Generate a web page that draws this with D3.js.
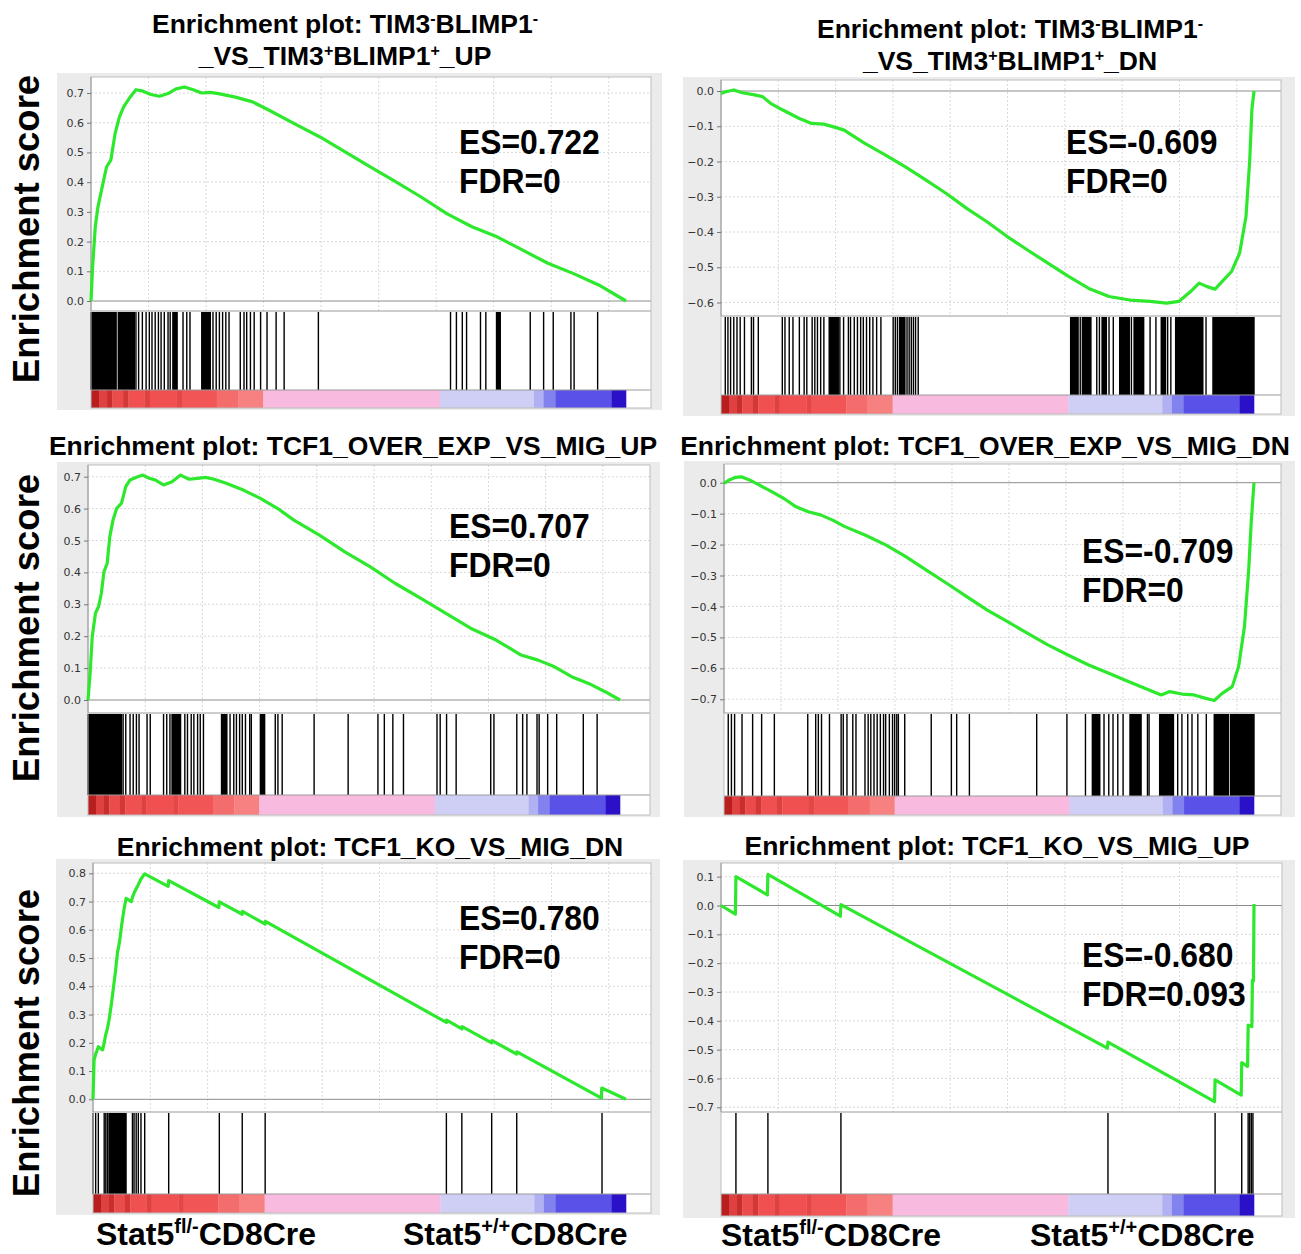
<!DOCTYPE html>
<html><head><meta charset="utf-8">
<script src="https://cdn.jsdelivr.net/npm/d3@7"></script>
<style>body{margin:0;background:#fff}</style>
</head><body>
<svg id="chart" width="1301" height="1254"></svg>
<script>
// ---------------- DATA ----------------
const LIST_SIZE = 18600;      // genes in ranked list
const GRID_STEP = 2000;       // rank grid spacing

// x values: position in ranked list (% of list); y: running enrichment score
const curve1 = [[0,0],[0.3,0.115],[0.8,0.25],[1.3,0.317],[2.1,0.384],[2.9,0.451],[3.7,0.474],[4.5,0.563],[5.3,0.619],[6.1,0.653],[7.3,0.686],[8.4,0.711],[9.6,0.707],[11.2,0.695],[12.8,0.689],[14.4,0.698],[15.9,0.714],[17.5,0.720],[19.1,0.711],[20.7,0.700],[22.3,0.702],[23.8,0.698],[25.4,0.692],[27.0,0.686],[30.2,0.670],[33.3,0.642],[38.0,0.597],[42.8,0.552],[47.5,0.502],[52.2,0.451],[57.0,0.401],[61.7,0.350],[66.5,0.294],[71.2,0.250],[75.9,0.216],[80.7,0.171],[85.4,0.127],[90.1,0.093],[94.9,0.054],[100,0]];
const curve2 = [[0,-0.007],[0.9,-0.002],[2.4,0.003],[4.0,-0.005],[6.3,-0.011],[7.8,-0.016],[9.3,-0.035],[11.6,-0.054],[14.7,-0.078],[17.0,-0.092],[19.3,-0.094],[21.6,-0.104],[23.1,-0.111],[26.9,-0.148],[30.8,-0.181],[34.6,-0.215],[38.4,-0.252],[42.2,-0.290],[46.1,-0.333],[49.9,-0.371],[53.7,-0.413],[57.5,-0.451],[61.4,-0.489],[65.2,-0.526],[69.0,-0.560],[72.8,-0.583],[76.7,-0.593],[80.5,-0.597],[83.6,-0.602],[85.9,-0.597],[88.1,-0.569],[89.7,-0.545],[91.2,-0.555],[92.7,-0.562],[94.3,-0.536],[95.8,-0.512],[97.3,-0.460],[98.5,-0.356],[99.2,-0.196],[99.6,-0.054],[100,0]];
const curve3 = [[0,0],[0.4,0.084],[0.8,0.199],[1.4,0.272],[2.0,0.293],[2.5,0.334],[3.0,0.402],[3.6,0.428],[4.1,0.512],[4.7,0.564],[5.4,0.601],[6.3,0.617],[7.1,0.669],[7.9,0.690],[9.1,0.698],[10.3,0.705],[11.5,0.695],[12.6,0.690],[14.2,0.674],[15.8,0.684],[17.4,0.705],[19.0,0.692],[20.6,0.695],[22.1,0.698],[23.7,0.692],[26.1,0.679],[29.2,0.658],[32.4,0.632],[35.6,0.601],[38.7,0.564],[43.5,0.517],[48.2,0.465],[53.0,0.418],[57.7,0.366],[62.5,0.319],[67.2,0.272],[71.9,0.225],[76.7,0.188],[81.4,0.141],[84.6,0.125],[87.7,0.104],[90.9,0.073],[94.1,0.052],[97.2,0.026],[100,0]];
const curve4 = [[0,-0.002],[1.0,0.009],[2.1,0.017],[3.3,0.019],[4.8,0.009],[6.7,-0.008],[9.0,-0.029],[11.3,-0.051],[13.6,-0.078],[15.9,-0.094],[18.2,-0.104],[20.5,-0.121],[22.8,-0.142],[26.6,-0.169],[30.5,-0.201],[34.3,-0.239],[38.1,-0.282],[42.0,-0.325],[45.8,-0.368],[49.6,-0.411],[53.5,-0.449],[57.3,-0.487],[61.1,-0.524],[64.9,-0.557],[68.8,-0.589],[72.6,-0.616],[76.4,-0.643],[80.2,-0.670],[82.5,-0.686],[84.1,-0.675],[86.4,-0.683],[88.7,-0.686],[90.9,-0.697],[92.5,-0.704],[94.0,-0.681],[95.9,-0.659],[97.1,-0.594],[98.2,-0.465],[99.0,-0.282],[99.5,-0.121],[100,0]];
const curve5 = [[0,0],[0.2,0.139],[0.5,0.16],[1.0,0.186],[1.8,0.175],[2.1,0.2],[2.4,0.23],[2.7,0.25],[3.0,0.28],[3.4,0.33],[3.8,0.39],[4.2,0.45],[4.6,0.52],[5.0,0.56],[5.4,0.62],[5.8,0.67],[6.2,0.711],[7.2,0.70],[7.4,0.715],[7.7,0.73],[8.1,0.745],[8.5,0.76],[9.0,0.78],[9.7,0.798],[14.1,0.754],[14.2,0.774],[23.6,0.679],[23.7,0.699],[28.0,0.655],[28.05,0.665],[32.3,0.62],[32.35,0.63],[66.3,0.272],[66.35,0.28],[69.2,0.249],[69.25,0.257],[74.8,0.2],[74.85,0.208],[79.5,0.16],[79.55,0.168],[95.4,0.004],[95.45,0.04],[100,0]];
const curve6 = [[0,0],[2.7,-0.03],[2.8,0.1],[8.7,0.037],[8.8,0.108],[22.4,-0.037],[22.5,0.003],[72.5,-0.495],[72.6,-0.474],[92.6,-0.68],[92.7,-0.605],[97.6,-0.658],[97.7,-0.545],[98.8,-0.558],[98.9,-0.415],[99.6,-0.42],[99.7,-0.26],[99.9,-0.262],[100,0.005]];

// gene-set hits: [start%, end%] (single genes have start == end)
const hits1 = [[0,4.7],[5.1,8.1],[8.4,8.4],[8.9,8.9],[9.6,9.6],[10.3,10.3],[10.9,10.9],[11.4,11.4],[12.0,12.0],[12.6,12.6],[13.1,13.1],[13.7,13.7],[14.4,14.4],[14.8,14.8],[15.3,16.1],[17.2,17.2],[17.9,17.9],[18.5,18.5],[20.7,22.3],[22.8,22.8],[23.4,23.4],[24.0,24.0],[24.6,24.6],[25.2,25.2],[25.8,25.8],[27.9,27.9],[28.6,28.6],[29.1,29.1],[29.8,29.8],[30.5,30.5],[31.7,31.7],[32.9,32.9],[34.6,34.6],[36.1,36.1],[42.5,42.5],[67.2,67.2],[68.3,68.3],[69.4,69.4],[70.2,70.2],[72.8,72.8],[73.8,73.8],[75.8,76.5],[82.1,82.1],[84.6,84.6],[86.4,86.4],[89.7,89.7],[90.3,90.3],[94.7,94.7]];
const hits2 = [[0.8,0.8],[1.3,1.3],[1.8,1.8],[2.4,2.4],[3.0,3.0],[3.6,3.6],[4.4,4.4],[5.7,5.7],[6.1,6.1],[7.0,7.0],[11.5,11.5],[12.0,12.0],[12.8,12.8],[13.5,13.5],[14.7,14.7],[15.6,15.6],[16.1,16.1],[17.1,17.1],[17.6,17.6],[18.1,18.1],[18.7,18.7],[19.3,19.3],[20.3,22.0],[22.3,22.3],[23.0,23.0],[23.9,23.9],[24.3,24.3],[25.0,25.0],[25.6,25.6],[26.2,26.2],[26.7,26.7],[27.3,27.3],[27.9,27.9],[28.5,28.5],[29.2,29.2],[30.0,30.0],[32.3,32.3],[32.7,32.7],[33.1,33.1],[33.5,34.5],[34.9,34.9],[35.3,35.3],[35.7,35.7],[36.1,36.1],[36.5,36.5],[37.0,37.0],[65.6,67.0],[67.4,67.4],[67.8,69.4],[70.5,70.5],[71.0,71.0],[71.5,72.3],[72.8,72.8],[73.6,73.6],[74.8,76.6],[77.0,77.0],[77.5,79.3],[80.5,80.5],[81.6,81.6],[82.6,83.4],[83.8,83.8],[84.4,84.4],[85.3,90.4],[91.0,91.0],[92.3,100]];
const hits3 = [[0,1.6],[1.8,6.3],[6.6,6.6],[7.1,7.1],[7.9,7.9],[8.5,8.5],[9.1,9.1],[9.6,9.6],[11.1,11.1],[11.7,11.7],[14.2,14.2],[14.8,14.8],[15.4,15.4],[15.8,17.4],[18.2,18.2],[18.7,18.7],[19.4,19.4],[19.9,19.9],[20.6,20.6],[21.1,21.1],[21.7,21.7],[25.1,26.1],[26.7,26.7],[27.4,27.4],[27.9,27.9],[28.5,28.5],[29.0,29.0],[29.6,29.6],[30.4,30.4],[30.7,30.7],[32.4,33.2],[35.2,35.2],[35.7,35.7],[36.5,36.5],[42.5,42.5],[48.9,48.9],[54.5,54.5],[55.7,55.7],[57.3,57.3],[59.3,59.3],[65.6,65.6],[66.2,66.2],[67.4,67.4],[69.2,69.2],[75.7,75.7],[76.3,76.3],[80.6,80.6],[81.7,81.7],[82.5,82.5],[84.4,84.4],[84.8,84.8],[86.4,86.4],[88.1,88.1],[93.1,93.1],[95.7,95.7]];
const hits4 = [[0.8,0.8],[1.4,1.4],[2.0,2.0],[3.4,3.4],[5.4,5.4],[7.1,7.1],[9.5,9.5],[15.8,15.8],[17.3,17.3],[17.8,17.8],[18.4,18.4],[19.9,19.9],[22.1,22.1],[22.5,22.5],[23.2,23.2],[24.3,24.3],[24.9,24.9],[26.6,26.6],[27.2,27.2],[27.7,27.7],[28.3,28.3],[28.9,28.9],[29.5,29.5],[30.1,30.1],[30.5,30.5],[31.2,31.2],[31.8,31.8],[32.2,32.2],[32.6,32.6],[32.9,32.9],[34.1,34.1],[39.1,39.1],[42.9,42.9],[43.9,43.9],[46.3,46.3],[59.0,59.0],[64.7,64.7],[68.2,68.2],[69.5,70.9],[71.7,71.7],[72.6,72.6],[73.4,73.4],[74.3,74.3],[75.3,75.3],[76.6,78.7],[79.9,79.9],[80.2,80.2],[82.2,84.8],[85.6,85.6],[86.4,86.4],[87.5,87.5],[88.3,88.3],[89.4,89.4],[91.0,91.0],[92.5,95.2],[95.6,100]];
const hits5 = [[0,0],[0.5,0.5],[1.0,1.0],[2.1,2.1],[2.4,2.4],[2.7,2.7],[3.0,6.2],[7.4,7.4],[7.7,7.7],[8.1,8.1],[8.5,8.5],[9.0,9.0],[9.7,9.7],[14.2,14.2],[23.7,23.7],[28.0,28.0],[32.3,32.3],[66.3,66.3],[69.2,69.2],[74.8,74.8],[79.5,79.5],[95.5,95.5]];
const hits6 = [[2.8,2.8],[8.8,8.8],[22.5,22.5],[72.6,72.6],[92.7,92.7],[97.7,97.7],[98.9,98.9],[99.2,99.2],[99.5,99.5],[99.8,99.8]];

// ranked-list metric bands shared by all panels: [start%, end%, metric level]
const rankBands = [[0,1.5,3],[1.5,3,2.3],[3,4,2.7],[4,6,2.1],[6,7,2.5],[7,10,2],[10,11,2.3],[11,16,2],[16,17,2.2],[17,23.5,1.9],[23.5,27.5,1.4],[27.5,32.2,1],[32.2,65.2,0.5],[65.2,82.8,-0.5],[82.8,84.6,-0.7],[84.6,86.8,-1],[86.8,97.3,-2],[97.3,100,-3]];

const esValues = [0.722, -0.609, 0.707, -0.709, 0.780, -0.680];
const fdrValues = ["0", "0", "0", "0", "0", "0.093"];

const ticks1 = [0,0.1,0.2,0.3,0.4,0.5,0.6,0.7];
const ticks2 = [0,-0.1,-0.2,-0.3,-0.4,-0.5,-0.6];
const ticks3 = [0,0.1,0.2,0.3,0.4,0.5,0.6,0.7];
const ticks4 = [0,-0.1,-0.2,-0.3,-0.4,-0.5,-0.6,-0.7];
const ticks5 = [0,0.1,0.2,0.3,0.4,0.5,0.6,0.7,0.8];
const ticks6 = [0.1,0,-0.1,-0.2,-0.3,-0.4,-0.5,-0.6,-0.7];

// titles as [text, isSuperscript] runs, one array per line
const title1 = [[["Enrichment plot: TIM3",0],["-",1],["BLIMP1",0],["-",1]],[["_VS_TIM3",0],["+",1],["BLIMP1",0],["+",1],["_UP",0]]];
const title2 = [[["Enrichment plot: TIM3",0],["-",1],["BLIMP1",0],["-",1]],[["_VS_TIM3",0],["+",1],["BLIMP1",0],["+",1],["_DN",0]]];
const title3 = [[["Enrichment plot: TCF1_OVER_EXP_VS_MIG_UP",0]]];
const title4 = [[["Enrichment plot: TCF1_OVER_EXP_VS_MIG_DN",0]]];
const title5 = [[["Enrichment plot: TCF1_KO_VS_MIG_DN",0]]];
const title6 = [[["Enrichment plot: TCF1_KO_VS_MIG_UP",0]]];

const yAxisLabel = "Enrichment score";
const groupLabels = [[["Stat5",0],["fl/-",1],["CD8Cre",0]], [["Stat5",0],["+/+",1],["CD8Cre",0]]];

// ---------------- LAYOUT ----------------
const layouts = [
 {bg:[57,73,662,410], left:91, right:651, listEnd:626, top:77, sep:311, hitsBottom:390, barBottom:408, y0:301, yRef:[0.7,93], es:[459,154], title:[345,33]},
 {bg:[683,77,1295,416], left:721, right:1281, listEnd:1254, top:80, sep:316, hitsBottom:395, barBottom:414, y0:91, yRef:[-0.6,302.5], es:[1066,154], title:[1010,38]},
 {bg:[57,462,660,817], left:88, right:650, listEnd:620, top:465, sep:713, hitsBottom:795, barBottom:815, y0:700, yRef:[0.7,476.7], es:[449,538], title:[353,455]},
 {bg:[684,461,1295,817], left:724, right:1281, listEnd:1254, top:464, sep:713, hitsBottom:796, barBottom:815, y0:482.7, yRef:[-0.7,699.3], es:[1082,563], title:[985,455]},
 {bg:[56,859,660,1215], left:93, right:651, listEnd:626, top:863, sep:1112, hitsBottom:1194, barBottom:1213, y0:1099.3, yRef:[0.8,873.3], es:[459,930], title:[370,856]},
 {bg:[683,860,1295,1218], left:721, right:1282, listEnd:1254, top:863, sep:1112, hitsBottom:1194, barBottom:1216, y0:905.5, yRef:[-0.7,1107.3], es:[1082,967], title:[997,855]}
];

const curves = [curve1,curve2,curve3,curve4,curve5,curve6];
const hitsAll = [hits1,hits2,hits3,hits4,hits5,hits6];
const ticksAll = [ticks1,ticks2,ticks3,ticks4,ticks5,ticks6];
const titlesAll = [title1,title2,title3,title4,title5,title6];

const BOLD = "'Liberation Sans', Arial, Helvetica, sans-serif";
const svg = d3.select("#chart");
svg.append("rect").attr("width",1301).attr("height",1254).attr("fill","#fff");

const bandColor = d3.scaleLinear()
  .domain([-3,-2,-1,-0.5,0.5,1,2,3])
  .range(["#2a10c6","#5a52e8","#8282ee","#cfcff6","#f9badf","#f78080","#f05050","#b81e1e"]);

function runs(textSel, parts, size, supSize, supShift) {
  let shifted = false;
  parts.forEach(([t, sup]) => {
    const ts = textSel.append("tspan").text(t);
    if (sup) { ts.attr("font-size", supSize).attr("dy", -supShift); shifted = true; }
    else { ts.attr("font-size", size); if (shifted) { ts.attr("dy", supShift); shifted = false; } }
  });
}
function condense(sel, f) {
  const n = sel.node().getComputedTextLength();
  sel.attr("textLength", n * f).attr("lengthAdjust", "spacingAndGlyphs");
}

layouts.forEach((L, i) => {
  const g = svg.append("g");
  g.append("rect").attr("x",L.bg[0]).attr("y",L.bg[1]).attr("width",L.bg[2]-L.bg[0]).attr("height",L.bg[3]-L.bg[1]).attr("fill","#ebebeb");
  g.append("rect").attr("x",L.left).attr("y",L.top).attr("width",L.right-L.left).attr("height",L.barBottom-L.top)
    .attr("fill","#fff");

  const x = d3.scaleLinear().domain([0,100]).range([L.left, L.listEnd]);
  const y = d3.scaleLinear().domain([0, L.yRef[0]]).range([L.y0, L.yRef[1]]);

  // grid
  const gridPct = d3.range(GRID_STEP, LIST_SIZE*1.1, GRID_STEP).map(r => r/LIST_SIZE*100).filter(p => x(p) < L.right-3);
  g.selectAll(null).data(gridPct).join("line")
    .attr("x1",d=>x(d)).attr("x2",d=>x(d)).attr("y1",L.top).attr("y2",L.sep)
    .attr("stroke","#d9d9d9").attr("stroke-dasharray","2,2");
  g.selectAll(null).data(ticksAll[i].filter(t=>t!==0)).join("line")
    .attr("x1",L.left).attr("x2",L.right).attr("y1",d=>y(d)).attr("y2",d=>y(d))
    .attr("stroke","#d9d9d9").attr("stroke-dasharray","2,2");
  // zero line
  g.append("line").attr("x1",L.left).attr("x2",L.right).attr("y1",y(0)).attr("y2",y(0)).attr("stroke","#8c8c8c");

  // hits
  g.selectAll(null).data(hitsAll[i]).join("rect")
    .attr("x",d=>x(d[0])-0.7).attr("width",d=>Math.max(1.4, x(d[1])-x(d[0])+1.4))
    .attr("y",L.sep+1).attr("height",L.hitsBottom-L.sep-1).attr("fill","#000");

  // ranked list colour bar
  g.selectAll(null).data(rankBands).join("rect")
    .attr("x",d=>x(d[0])).attr("width",d=>x(d[1])-x(d[0])+0.3)
    .attr("y",L.hitsBottom).attr("height",L.barBottom-L.hitsBottom)
    .attr("fill",d=>bandColor(d[2]));

  // separators and frame
  [L.sep, L.hitsBottom].forEach(yy => g.append("line").attr("x1",L.left).attr("x2",L.right).attr("y1",yy).attr("y2",yy).attr("stroke","#9a9a9a"));
  g.append("rect").attr("x",L.left).attr("y",L.top).attr("width",L.right-L.left).attr("height",L.barBottom-L.top)
    .attr("fill","none").attr("stroke","#bdbdbd");

  // y axis
  const ax = g.append("g").attr("transform",`translate(${L.left},0)`)
    .call(d3.axisLeft(y).tickValues(ticksAll[i]).tickFormat(d3.format(".1f")).tickSize(4).tickPadding(3));
  ax.select(".domain").attr("stroke","#9a9a9a").attr("d",`M0,${L.top}V${L.sep}`);
  ax.selectAll(".tick line").attr("stroke","#777");
  ax.selectAll(".tick text").attr("fill","#333").attr("font-family","'DejaVu Sans', sans-serif").attr("font-size",11);

  // curve
  g.append("path").datum(curves[i])
    .attr("d", d3.line().x(d=>x(d[0])).y(d=>y(d[1])))
    .attr("fill","none").attr("stroke","#2ee82e").attr("stroke-width",3.2).attr("stroke-linejoin","round");

  // ES / FDR
  const esT = g.append("text").attr("x",L.es[0]).attr("y",L.es[1]).attr("font-family",BOLD).attr("font-weight","bold").attr("font-size",35)
    .text("ES=" + esValues[i].toFixed(3));
  condense(esT, 0.91);
  const fdrT = g.append("text").attr("x",L.es[0]).attr("y",L.es[1]+39).attr("font-family",BOLD).attr("font-weight","bold").attr("font-size",35)
    .text("FDR=" + fdrValues[i]);
  condense(fdrT, 0.91);

  // title
  titlesAll[i].forEach((line, k) => {
    const t = g.append("text").attr("x",L.title[0]).attr("y",L.title[1]+k*32).attr("text-anchor","middle")
      .attr("font-family",BOLD).attr("font-weight","bold").attr("font-size",26.5);
    runs(t, line, 26.5, 16, 9);
  });
});

// y axis titles
[229, 628, 1043].forEach(cy => {
  svg.append("text").attr("transform",`translate(39,${cy}) rotate(-90)`).attr("text-anchor","middle")
    .attr("font-family",BOLD).attr("font-weight","bold").attr("font-size",36.5).text(yAxisLabel);
});

// group labels under bottom row
[[96,1245,0],[403,1245,1],[721,1246,0],[1030,1246,1]].forEach(([lx,ly,k]) => {
  const t = svg.append("text").attr("x",lx).attr("y",ly).attr("font-family",BOLD).attr("font-weight","bold").attr("font-size",32);
  runs(t, groupLabels[k], 32, 20, 12);
});
</script>
</body></html>
